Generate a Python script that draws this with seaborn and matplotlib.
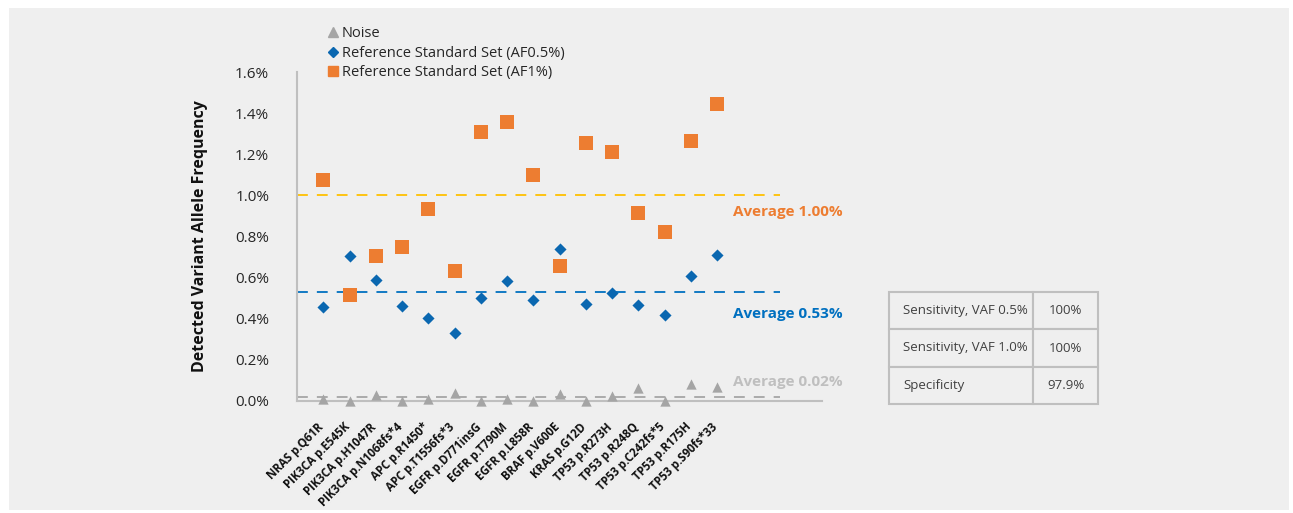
import numpy as np
import pandas as pd
import matplotlib.pyplot as plt
import seaborn as sns
from matplotlib.lines import Line2D
from matplotlib.patches import Rectangle
import matplotlib.transforms as mtransforms

# data (VAF in %)
variants = ['NRAS p.Q61R', 'PIK3CA p.E545K', 'PIK3CA p.H1047R', 'PIK3CA p.N1068fs*4',
            'APC p.R1450*', 'APC p.T1556fs*3', 'EGFR p.D771insG', 'EGFR p.T790M',
            'EGFR p.L858R', 'BRAF p.V600E', 'KRAS p.G12D', 'TP53 p.R273H',
            'TP53 p.R248Q', 'TP53 p.C242fs*5', 'TP53 p.R175H', 'TP53 p.S90fs*33']
noise = [0.008, 0.0, 0.031, 0.0, 0.008, 0.037, 0.0, 0.008,
         0.001, 0.033, 0.0, 0.024, 0.062, 0.0, 0.083, 0.067]
af05 = [0.456, 0.705, 0.589, 0.462, 0.402, 0.329, 0.502, 0.584,
        0.491, 0.738, 0.472, 0.527, 0.467, 0.417, 0.608, 0.710]
af1 = [1.075, 0.514, 0.705, 0.749, 0.932, 0.632, 1.310, 1.355,
       1.098, 0.655, 1.253, 1.211, 0.913, 0.820, 1.263, 1.443]
series_names = ['Noise', 'Reference Standard Set (AF0.5%)', 'Reference Standard Set (AF1%)']
averages = [0.02, 0.53, 1.00]
avg_labels = ['Average 0.02%', 'Average 0.53%', 'Average 1.00%']
table_rows = [['Sensitivity, VAF 0.5%', '100%'],
              ['Sensitivity, VAF 1.0%', '100%'],
              ['Specificity', '97.9%']]

pos = np.arange(1, len(variants) + 1)
df = pd.DataFrame({
    'pos': np.tile(pos, 3),
    'vaf': noise + af05 + af1,
    'series': np.repeat(series_names, len(variants)),
})

sns.set_theme(style='white')
plt.rcParams['font.family'] = ['Open Sans', 'DejaVu Sans']

bg = '#efefef'
marker_cols = {series_names[0]: '#a5a5a5', series_names[1]: '#0a67b0', series_names[2]: '#ed7d31'}
marker_shapes = {series_names[0]: '^', series_names[1]: 'D', series_names[2]: 's'}
marker_sizes = {series_names[0]: 55, series_names[1]: 38, series_names[2]: 105}
line_cols = ['#a5a5a5', '#0070c0', '#ffc000']
text_cols = ['#bfbfbf', '#0070c0', '#ed7d31']
text_offsets = [11, -16, -12]

fig = plt.figure(figsize=(12.93, 5.13), dpi=100, facecolor='white')
fig.patches.append(Rectangle((9 / 1293, 3 / 513), 1280 / 1293, 502 / 513,
                             transform=fig.transFigure, facecolor=bg, edgecolor='none', zorder=-10))
ax = fig.add_axes([297 / 1293, 112 / 513, 525 / 1293, 329 / 513])
ax.set_facecolor(bg)

# average lines
for a, lc in zip(averages, line_cols):
    ax.plot([0, 18.4], [a, a], color=lc, lw=1.3, dashes=(6, 5), zorder=1)

for name in series_names:
    sub = df[df['series'] == name]
    sns.scatterplot(data=sub, x='pos', y='vaf', ax=ax, color=marker_cols[name],
                    marker=marker_shapes[name], s=marker_sizes[name], linewidth=0,
                    clip_on=False, zorder=3, legend=False)

for a, lab, tc, off in zip(averages, avg_labels, text_cols, text_offsets):
    ax.annotate(lab, xy=(16.6, a), xytext=(0, off), textcoords='offset points',
                color=tc, fontsize=11, fontweight='bold', va='center', ha='left',
                annotation_clip=False)

ax.set_xlim(0, 20)
ax.set_ylim(0, 1.6)
ax.set_yticks(np.arange(0, 1.61, 0.2))
ax.set_yticklabels([f'{v:.1f}%' for v in np.arange(0, 1.61, 0.2)], fontsize=11, color='#262626')
ax.set_xticks(pos)
ax.set_xticklabels(variants, rotation=45, ha='right', rotation_mode='anchor',
                   fontsize=8.3, fontweight='bold', color='#111111')
ax.tick_params(axis='x', length=0, pad=14)
ax.tick_params(axis='y', length=0, pad=20)
ax.set_xlabel('')
ax.set_ylabel('Detected Variant Allele Frequency', fontsize=11.5, fontweight='bold', color='#111111')
ax.yaxis.set_label_coords(-0.17, 0.5)

for s in ['top', 'right']:
    ax.spines[s].set_visible(False)
for s in ['left', 'bottom']:
    ax.spines[s].set_color('#bfbfbf')
    ax.spines[s].set_linewidth(1.5)

handles = [Line2D([], [], linestyle='none', marker=marker_shapes[n], color=marker_cols[n],
                  markersize=ms) for n, ms in zip(series_names, [6.5, 5.5, 6.5])]
fig.legend(handles, series_names, loc='upper left', bbox_to_anchor=(318 / 1293, 1 - 19 / 513),
           frameon=False, fontsize=10.5, handletextpad=0.15, handlelength=1.0,
           labelspacing=0.3, borderpad=0, labelcolor='#262626')

tab = ax.table(cellText=table_rows, colWidths=[0.69 * 0.398, 0.31 * 0.398],
               cellLoc='left', bbox=[(889 - 297) / 525, (401 - 404) / 329, 209 / 525, 112 / 329])
tab.auto_set_font_size(False)
for (r, c), cell in tab.get_celld().items():
    cell.set_facecolor(bg)
    cell.set_edgecolor('#bfbfbf')
    cell.set_linewidth(1.5)
    cell.get_text().set_fontsize(9.5)
    cell.get_text().set_color('#404040')
    if c == 1:
        cell.get_text().set_horizontalalignment('center')
        cell._loc = 'center'

# nudge the rotated x labels a little to the left, as in the original
fig.canvas.draw()
shift = mtransforms.ScaledTranslation(-6 / 100, 0, fig.dpi_scale_trans)
for t in ax.xaxis.get_majorticklabels():
    t.set_transform(t.get_transform() + shift)

fig.savefig('out.png', dpi=100, facecolor='white')
